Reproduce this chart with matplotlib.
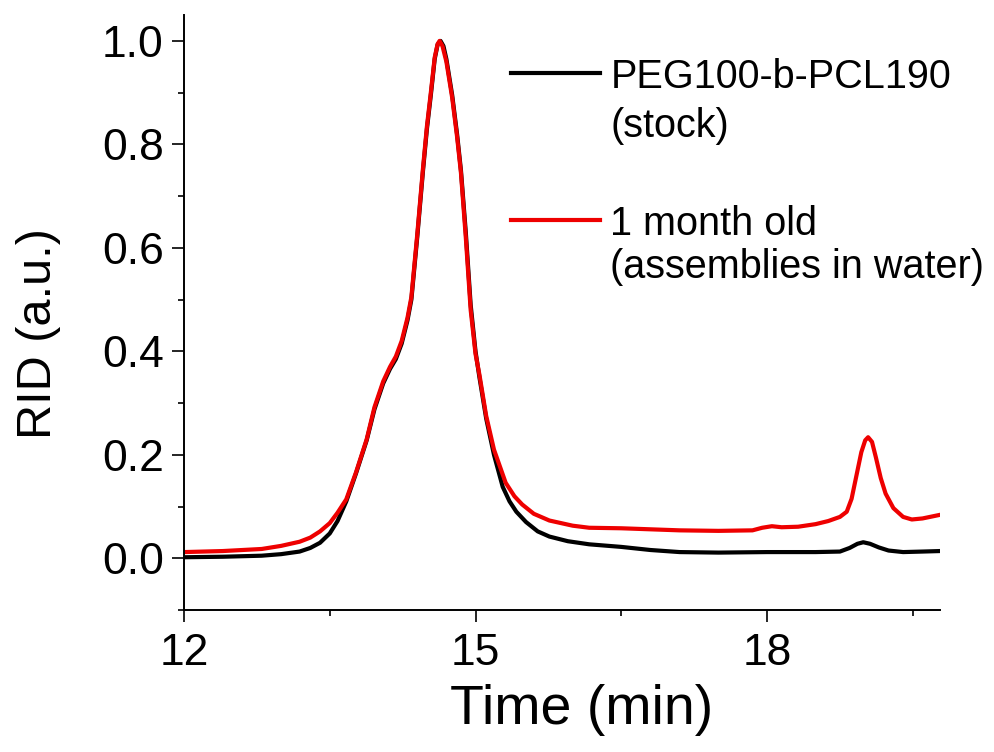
import matplotlib
matplotlib.use("Agg")
import matplotlib.pyplot as plt
from matplotlib.ticker import MultipleLocator

plt.rcParams['font.family'] = ['Liberation Sans', 'DejaVu Sans']

# GPC traces (time in min, normalised RID signal)
t_stock = [12.00, 12.40, 12.80, 13.00, 13.19, 13.30, 13.40, 13.50, 13.58, 13.67,
           13.77, 13.88, 13.96, 14.05, 14.12, 14.18, 14.24, 14.30, 14.34, 14.40,
           14.46, 14.50, 14.54, 14.58, 14.61, 14.64, 14.67, 14.70, 14.76, 14.81,
           14.85, 14.90, 14.95, 15.00, 15.04, 15.11, 15.19, 15.28, 15.35, 15.42,
           15.52, 15.64, 15.76, 15.95, 16.17, 16.50, 16.80, 17.10, 17.50, 18.00,
           18.50, 18.75, 18.85, 18.93, 18.99, 19.06, 19.15, 19.25, 19.40, 19.60,
           19.78]
rid_stock = [0.002, 0.003, 0.005, 0.008, 0.013, 0.020, 0.030, 0.048, 0.072, 0.110,
             0.164, 0.228, 0.288, 0.338, 0.366, 0.385, 0.415, 0.460, 0.500, 0.620,
             0.750, 0.830, 0.895, 0.965, 0.993, 1.000, 0.990, 0.965, 0.895, 0.820,
             0.750, 0.630, 0.490, 0.400, 0.350, 0.270, 0.200, 0.138, 0.110, 0.090,
             0.070, 0.052, 0.042, 0.033, 0.027, 0.022, 0.016, 0.012, 0.011, 0.012,
             0.012, 0.013, 0.020, 0.028, 0.031, 0.028, 0.021, 0.015, 0.012, 0.013,
             0.014]

t_aged = [12.00, 12.40, 12.80, 13.00, 13.19, 13.30, 13.40, 13.50, 13.58, 13.67,
          13.77, 13.88, 13.96, 14.05, 14.12, 14.18, 14.24, 14.30, 14.34, 14.40,
          14.46, 14.50, 14.54, 14.58, 14.61, 14.63, 14.66, 14.70, 14.76, 14.81,
          14.85, 14.90, 14.95, 15.00, 15.04, 15.11, 15.19, 15.31, 15.40, 15.48,
          15.60, 15.76, 16.00, 16.17, 16.50, 16.80, 17.10, 17.50, 17.85, 17.95,
          18.05, 18.15, 18.32, 18.50, 18.63, 18.75, 18.82, 18.87, 18.92, 18.97,
          19.01, 19.04, 19.08, 19.12, 19.17, 19.22, 19.30, 19.40, 19.49, 19.60,
          19.78]
rid_aged = [0.012, 0.014, 0.018, 0.024, 0.032, 0.040, 0.052, 0.068, 0.088, 0.114,
            0.166, 0.230, 0.292, 0.342, 0.370, 0.390, 0.420, 0.465, 0.505, 0.625,
            0.755, 0.835, 0.900, 0.968, 0.994, 1.000, 0.990, 0.960, 0.890, 0.815,
            0.745, 0.620, 0.480, 0.395, 0.355, 0.275, 0.210, 0.146, 0.120, 0.104,
            0.086, 0.073, 0.063, 0.059, 0.058, 0.056, 0.054, 0.053, 0.054, 0.059,
            0.062, 0.060, 0.061, 0.066, 0.072, 0.080, 0.090, 0.115, 0.160, 0.205,
            0.228, 0.234, 0.225, 0.195, 0.155, 0.125, 0.097, 0.080, 0.075, 0.077,
            0.084]

labels = [("PEG100-b-PCL190", "(stock)"),
          ("1 month old", "(assemblies in water)")]
colors = ['black', '#ee0000']

fig = plt.figure(figsize=(9.94, 7.52), dpi=100)
ax = fig.add_axes([0.1851, 0.1888, 0.7606, 0.7912])

ax.plot(t_stock, rid_stock, color=colors[0], lw=3)
ax.plot(t_aged, rid_aged, color=colors[1], lw=3)

ax.set_xlim(12, 19.78)
ax.set_ylim(-0.1, 1.05)
ax.xaxis.set_major_locator(MultipleLocator(3))
ax.xaxis.set_minor_locator(MultipleLocator(1.5))
ax.yaxis.set_major_locator(MultipleLocator(0.2))
ax.yaxis.set_minor_locator(MultipleLocator(0.1))
ax.yaxis.set_major_formatter(lambda v, p: f"{v:.1f}")

for s in ['top', 'right']:
    ax.spines[s].set_visible(False)
for s in ['left', 'bottom']:
    ax.spines[s].set_linewidth(1.4)

ax.tick_params(which='major', direction='out', length=8.5, width=1.2, labelsize=32)
ax.tick_params(which='minor', direction='out', length=4, width=1.2)
ax.tick_params(axis='y', which='major', pad=6)
ax.tick_params(axis='x', which='major', pad=8)

ax.set_xlabel("Time (min)", fontsize=40)
ax.set_ylabel("RID (a.u.)", fontsize=35)
ax.xaxis.set_label_coords(0.526, -0.125)
ax.yaxis.set_label_coords(-0.163, 0.465)

# legend drawn by hand so the handle sits on the first text line
handle_y = [0.9025, 0.655]
base_y = [(0.877, 0.795), (0.630, 0.558)]
for i in range(2):
    ax.plot([0.432, 0.550], [handle_y[i], handle_y[i]], color=colors[i], lw=3,
            transform=ax.transAxes, clip_on=False)
    for line, y in zip(labels[i], base_y[i]):
        ax.text(0.564, y, line, transform=ax.transAxes, fontsize=28.5,
                va='baseline', ha='left')

fig.savefig("out.png", dpi=100)
